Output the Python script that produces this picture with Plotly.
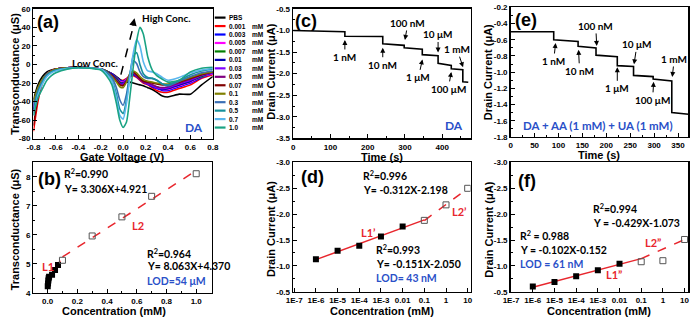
import numpy as np
import plotly.graph_objects as go

W, H = 696, 322

# ---------------- Panel (a): transconductance vs gate voltage ----------------
gate_v = [-0.8, -0.76, -0.72, -0.68, -0.64, -0.6, -0.5, -0.4, -0.3, -0.2, -0.15, -0.1, -0.06, -0.03, 0.0,
          0.03, 0.06, 0.09, 0.12, 0.15, 0.18, 0.22, 0.26, 0.3, 0.35, 0.4, 0.5, 0.6, 0.7, 0.8]
gm_names = ['PBS', '0.001', '0.003', '0.005', '0.007', '0.01', '0.03', '0.05', '0.07', '0.1', '0.3', '0.5', '0.7', '1.0']
gm_pbs = [-38, -22, -13, -8, -6, -5, -3.5, -3, -3.5, -5, -7, -10, -13, -16, -18, -19, -19, -20, -21, -22, -23, -25, -27, -30, -34, -35, -32, -32, -22, -13]
gm_0001 = [-72, -40, -20, -11, -7, -5, -3.5, -3, -3.5, -5, -7, -10, -14, -17, -17, -15, -13, -12, -14, -17, -20, -22, -25, -28, -30, -30, -26, -22, -15, -11]
gm_0003 = [-50, -30, -18, -10, -7, -5, -3.5, -3, -3.5, -5, -7, -10, -14, -17, -18, -16, -13, -11, -13, -16, -19, -21, -24, -26, -28, -28, -24, -20, -14, -10]
gm_0005 = [-46, -28, -17, -10, -7, -5, -3.5, -3, -3.5, -5, -7, -11, -15, -18, -19, -16, -12, -10, -12, -15, -18, -20, -23, -25, -27, -27, -23, -19, -13, -10]
gm_0007 = [-42, -26, -16, -10, -7, -5, -3.5, -3, -3.5, -5, -7, -11, -15, -19, -20, -17, -12, -10, -12, -15, -18, -20, -22, -24, -26, -26, -22, -18, -13, -9]
gm_001 = [-48, -28, -17, -10, -7, -5, -3.5, -3, -3.5, -5, -8, -11, -16, -20, -20, -17, -12, -10, -12, -16, -19, -21, -23, -25, -27, -26, -22, -18, -12, -9]
gm_003 = [-44, -27, -17, -10, -7, -5, -3.5, -3, -3.5, -5, -8, -12, -17, -21, -21, -17, -11, -9, -12, -16, -19, -21, -23, -25, -26, -25, -21, -17, -12, -9]
gm_005 = [-52, -30, -18, -11, -7, -5, -3.5, -3, -3.5, -5, -8, -12, -17, -21, -22, -18, -11, -9, -12, -16, -19, -20, -22, -24, -25, -24, -20, -16, -11, -8]
gm_007 = [-66, -36, -19, -11, -7, -5, -3.5, -3, -3.5, -5, -8, -12, -18, -22, -23, -18, -11, -8, -11, -15, -18, -19, -20, -21, -22, -22, -19, -15, -11, -8]
gm_01 = [-40, -25, -16, -10, -7, -5, -3.5, -3, -3.5, -5, -8, -13, -19, -24, -25, -19, -10, -7, -9, -13, -16, -18, -19, -20, -21, -21, -18, -14, -10, -8]
gm_03 = [-45, -28, -18, -11, -8, -6, -4, -3, -3.5, -5, -8, -14, -25, -38, -44, -32, -10, 4, 1, -8, -13, -15, -15, -17, -21, -23, -18, -13, -9, -7]
gm_05 = [-50, -30, -19, -12, -8, -6, -4, -3.5, -4, -5, -9, -17, -32, -48, -53, -38, -12, 9, 13, 0, -10, -14, -15, -17, -21, -22, -17, -11, -7, -5]
gm_07 = [-55, -33, -21, -13, -9, -7, -4.5, -3.5, -4, -5, -10, -18, -36, -55, -59, -42, -14, 12, 27, 20, 3, -7, -8, -10, -14, -17, -14, -9, -6, -4]
gm_10 = [-55, -36, -26, -17, -12, -9, -5, -3.5, -4, -6, -12, -22, -42, -60, -68, -62, -35, -3, 25, 40, 33, 8, -6, -12, -16, -19, -17, -8, -4, -3]
gm_series = [gm_pbs, gm_0001, gm_0003, gm_0005, gm_0007, gm_001, gm_003, gm_005, gm_007, gm_01, gm_03, gm_05, gm_07, gm_10]
gm_colors = ['#000000', '#ff0000', '#0000ff', '#ff00ff', '#008000', '#0000b0', '#8000ff', '#800080',
             '#800000', '#808000', '#3a6fb5', '#15909c', '#5ab6ee', '#1aa383']

# ---------------- Panel (b): calibration ----------------
b_conc_l1 = [0.001, 0.003, 0.005, 0.007, 0.01, 0.03, 0.05, 0.07]
b_gm_l1 = [4.22, 4.32, 4.42, 4.50, 4.55, 4.62, 4.78, 4.96]
b_conc_l2 = [0.1, 0.3, 0.5, 0.7, 1.0]
b_gm_l2 = [5.12, 5.96, 6.62, 7.33, 8.11]

# ---------------- Panel (c): I-t response DA ----------------
c_time = [0, 138.8, 138.8, 240.5, 240.5, 298, 298, 346.6, 346.6, 389, 389, 424.4, 424.4, 455.4, 455.4, 470]
c_curr = [-1.0, -1.03, -1.135, -1.14, -1.31, -1.345, -1.40, -1.435, -1.56, -1.585, -1.76, -1.81, -1.885, -1.91, -2.19, -2.20]

# ---------------- Panel (d): calibration (log) ----------------
d_conc_l1 = [1e-6, 1e-5, 1e-4, 1e-3, 1e-2]
d_cur_l1 = [-1.13, -1.29, -1.39, -1.57, -1.76]
d_conc_l2 = [0.1, 1, 10]
d_cur_l2 = [-1.88, -2.18, -2.50]

# ---------------- Panel (e): I-t response DA + AA + UA ----------------
e_time = [0, 90, 90, 141, 141, 178.5, 178.5, 223, 223, 257, 257, 298, 298, 337, 337, 372]
e_curr = [-0.5, -0.5, -0.6, -0.62, -0.68, -0.70, -0.79, -0.81, -0.92, -0.93, -1.04, -1.055, -1.085, -1.11, -1.50, -1.52]

# ---------------- Panel (f): calibration (log) ----------------
f_conc_l1 = [1e-6, 1e-5, 1e-4, 1e-3, 1e-2]
f_cur_l1 = [-0.60, -0.69, -0.80, -0.915, -1.04]
f_conc_l2 = [0.1, 1, 10]
f_cur_l2 = [-1.08, -1.10, -1.51]

log_ticks = [1e-7, 1e-6, 1e-5, 1e-4, 1e-3, 1e-2, 1e-1, 1, 10]
log_ticktext = ['1E-7', '1E-6', '1E-5', '1E-4', '1E-3', '0.01', '0.1', '1', '10']

RED = '#e8262d'
BLUE = '#2a50c8'
AXF = 'Liberation Sans'
TXF = 'Lato'


def px(x):
    return x / W


def py(y):
    return 1 - y / H


def fmt(v, d):
    return f'{v:.{d}f}'


def axis(dom, rng, tickvals=None, ticktext=None, minor_dtick=None, minor_tick0=0, typ='linear'):
    a = dict(domain=dom, range=rng, type=typ, showline=True, linecolor='black', linewidth=1.5, mirror=True,
             ticks='inside', ticklen=4, tickwidth=1, tickcolor='black', showgrid=False, zeroline=False,
             tickfont=dict(family=AXF, size=8, color='black', weight='bold'), fixedrange=True)
    if tickvals is not None:
        a.update(tickmode='array', tickvals=tickvals, ticktext=ticktext)
    if minor_dtick is not None:
        a['minor'] = dict(tickmode='linear', tick0=minor_tick0, dtick=minor_dtick, ticks='inside', ticklen=2,
                          tickcolor='black', tickwidth=1, showgrid=False)
    return a


def dx(a, b):
    return [a / W, b / W]


def dy(top, bottom):
    return [1 - bottom / H, 1 - top / H]


fig = go.Figure()

# (a) curves
for name, ys, col in zip(gm_names, gm_series, gm_colors):
    fig.add_trace(go.Scatter(x=gate_v, y=ys, mode='lines', line=dict(color=col, width=1.6, shape='spline', smoothing=0.6),
                             name=name, showlegend=False, xaxis='x', yaxis='y'))

# (b)
b_p1 = np.polyfit(b_conc_l1, b_gm_l1, 1)
b_p2 = np.polyfit(b_conc_l2, b_gm_l2, 1)
xb1 = np.array([0.0, b_conc_l2[0] * 0.85])
xb2 = np.array([b_conc_l2[0], b_conc_l2[-1]])
fig.add_trace(go.Scatter(x=xb1, y=np.polyval(b_p1, xb1), mode='lines', line=dict(color=RED, width=1.5),
                         showlegend=False, xaxis='x2', yaxis='y2'))
fig.add_trace(go.Scatter(x=xb2, y=np.polyval(b_p2, xb2), mode='lines', line=dict(color=RED, width=1.5, dash='dash'),
                         showlegend=False, xaxis='x2', yaxis='y2'))
fig.add_trace(go.Scatter(x=b_conc_l1, y=b_gm_l1, mode='markers', marker=dict(symbol='square', size=6, color='black'),
                         showlegend=False, xaxis='x2', yaxis='y2'))
fig.add_trace(go.Scatter(x=b_conc_l2, y=b_gm_l2, mode='markers',
                         marker=dict(symbol='square-open', size=6, color='#555555', line=dict(width=1)),
                         showlegend=False, xaxis='x2', yaxis='y2'))

# (c)
fig.add_trace(go.Scatter(x=c_time, y=c_curr, mode='lines', line=dict(color='black', width=1.6),
                         showlegend=False, xaxis='x3', yaxis='y3'))


def log_panel(xa, ya, c1, v1, c2, v2, dash_from_fit=True):
    p1 = np.polyfit(np.log10(c1), v1, 1)
    xl1 = np.array([c1[0], c2[0]])
    fig.add_trace(go.Scatter(x=xl1, y=np.polyval(p1, np.log10(xl1)), mode='lines', line=dict(color=RED, width=1.5),
                             showlegend=False, xaxis=xa, yaxis=ya))
    xl2 = np.array([c2[0], c2[-1]])
    if dash_from_fit:
        p2 = np.polyfit(np.log10(c2), v2, 1)
        yl2 = np.polyval(p2, np.log10(xl2))
    else:
        yl2 = [np.polyval(p1, np.log10(c2[0])), v2[-1]]
    fig.add_trace(go.Scatter(x=xl2, y=yl2, mode='lines', line=dict(color=RED, width=1.5, dash='dash'),
                             showlegend=False, xaxis=xa, yaxis=ya))
    fig.add_trace(go.Scatter(x=c1, y=v1, mode='markers', marker=dict(symbol='square', size=6, color='black'),
                             showlegend=False, xaxis=xa, yaxis=ya))
    fig.add_trace(go.Scatter(x=c2, y=v2, mode='markers',
                             marker=dict(symbol='square-open', size=6, color='#555555', line=dict(width=1)),
                             showlegend=False, xaxis=xa, yaxis=ya))


log_panel('x4', 'y4', d_conc_l1, d_cur_l1, d_conc_l2, d_cur_l2, True)

# (e)
fig.add_trace(go.Scatter(x=e_time, y=e_curr, mode='lines', line=dict(color='black', width=1.6),
                         showlegend=False, xaxis='x5', yaxis='y5'))

log_panel('x6', 'y6', f_conc_l1, f_cur_l1, f_conc_l2, f_cur_l2, False)

# ---------------- axes ----------------
ta = [-0.8, -0.6, -0.4, -0.2, 0.0, 0.2, 0.4, 0.6, 0.8]
tya = [-80, -60, -40, -20, 0, 20, 40, 60]
tb = [0.0, 0.2, 0.4, 0.6, 0.8, 1.0]
tyb = [4, 5, 6, 7, 8]
tc = [0, 100, 200, 300, 400]
tyc = [-3.5, -3.0, -2.5, -2.0, -1.5, -1.0, -0.5]
tyd = [-3.0, -2.5, -2.0, -1.5, -1.0, -0.5]
te = [0, 50, 100, 150, 200, 250, 300, 350]
tye = [-1.8, -1.6, -1.4, -1.2, -1.0, -0.8, -0.6, -0.4, -0.2]

fig.update_layout(
    xaxis=axis(dx(26, 209), [-0.8, 0.8], ta, [fmt(v, 1) for v in ta], 0.1, -0.8),
    yaxis=axis(dy(5, 138.5), [-80, 60], tya, [str(v) for v in tya], 10, -80),
    xaxis2=axis(dx(26, 208), [-0.095, 1.105], tb, [fmt(v, 1) for v in tb], 0.1, 0),
    yaxis2=axis(dy(163, 297), [4, 8.5], tyb, [str(v) for v in tyb], 0.5, 4),
    xaxis3=axis(dx(291, 472), [0, 476], tc, [str(v) for v in tc], 50, 0),
    yaxis3=axis(dy(5, 138.3), [-3.5, -0.5], tyc, [fmt(v, 1) for v in tyc], 0.25, -3.5),
    xaxis4=axis(dx(291, 472), [-7.05, 1.13], log_ticks, log_ticktext, None, 0, 'log'),
    yaxis4=axis(dy(163, 296), [-0.5, -3.0], tyd, [fmt(v, 1) for v in tyd], 0.25, -3.0),
    xaxis5=axis(dx(513, 694), [0, 371], te, [str(v) for v in te], 25, 0),
    yaxis5=axis(dy(3.5, 136.7), [-1.8, -0.2], tye, [fmt(v, 1) for v in tye], 0.1, -1.8),
    xaxis6=axis(dx(513, 694), [-7.02, 1.16], log_ticks, log_ticktext, None, 0, 'log'),
    yaxis6=axis(dy(163, 296), [-0.5, -3.0], tyd, [fmt(v, 1) for v in tyd], 0.25, -3.0),
)
for k in ['xaxis2', 'xaxis3', 'xaxis4', 'xaxis5', 'xaxis6']:
    fig.layout[k].anchor = 'y' + k[-1]
for k in ['yaxis2', 'yaxis3', 'yaxis4', 'yaxis5', 'yaxis6']:
    fig.layout[k].anchor = 'x' + k[-1]

annotations = []
shapes = []


def text(t, x, y, size=10.5, color='black', family=TXF, anchor='left', angle=0):
    annotations.append(dict(text=t, x=px(x), y=py(y), xref='paper', yref='paper', showarrow=False,
                            xanchor=anchor, yanchor='middle', textangle=angle,
                            font=dict(family=family, size=size, color=color, weight='bold')))


# axis titles
for t, x, y, ang in [('Transconductance (μS)', 7, 72, -90), ('Gate Voltage (V)', 116, 157.5, 0),
                     ('Transconductance (μS)', 7, 232, -90), ('Concentration (mM)', 108, 316, 0),
                     ('Drain Current (μA)', 268, 70, -90), ('Time (s)', 381.5, 157, 0),
                     ('Drain Current (μA)', 268, 232, -90), ('Concentration (mM)', 381.5, 315.5, 0),
                     ('Drain Current (μA)', 490, 70, -90), ('Time (s)', 603, 155.5, 0),
                     ('Drain Current (μA)', 490, 232, -90), ('Concentration (mM)', 603, 315.5, 0)]:
    text(t, x, y, size=11, family=AXF, anchor='center', angle=ang)

# panel letters
for t, x, y in [('(a)', 28, 19), ('(b)', 29, 180), ('(c)', 291, 18), ('(d)', 297, 178), ('(e)', 515, 16), ('(f)', 518, 182)]:
    text(t, x, y, size=18, family=AXF)

# (a) texts
text('High Conc.', 135, 14, 10)
text('Low Conc.', 63, 61, 10)
text('DA', 190, 127, 12, BLUE, anchor='center')
shapes.append(dict(type='line', xref='x', yref='y', x0=-0.02, y0=-11, x1=0.097, y1=44,
                   line=dict(color='black', width=1.5, dash='dash')))
annotations.append(dict(x=0.102, y=50, xref='x', yref='y', text='', showarrow=True, ax=-2, ay=9,
                        arrowhead=2, arrowsize=1, arrowwidth=1.5, arrowcolor='black'))

# (a) legend
for i, (name, col) in enumerate(zip(gm_names, gm_colors)):
    yy = 14 + i * 8.7
    shapes.append(dict(type='line', xref='paper', yref='paper', x0=px(211), x1=px(222), y0=py(yy), y1=py(yy),
                       line=dict(color=col, width=2.2)))
    text(name, 224, yy, 6.5, family=AXF)
    if name != 'PBS':
        text('mM', 246.5, yy, 6.5, family=AXF)

# (b) texts
text('R<sup>2</sup>=0.990', 55, 174)
text('Y= 3.306X+4.921', 55, 190.5)
text('L2', 125, 228, 11, RED)
text('L1', 33, 270, 11, RED)
text('R<sup>2</sup>=0.964', 140, 256.5)
text('Y= 8.063X+4.370', 140, 270)
text('LOD=54 μM', 140, 285, 10.5, BLUE)

# (c) arrows
c_marks = [('1 nM', 138.8, -1.22, 0, 17), ('10 nM', 240.5, -1.40, 0, 17), ('100 nM', 300, -1.22, 3, -17),
           ('1 μM', 347, -1.67, -4, 18), ('10 μM', 389, -1.51, 0, -18), ('100 μM', 424.4, -1.96, -3, 17),
           ('1 mM', 456, -1.85, -6, -18)]
for t, x, y, ax, ay in c_marks:
    annotations.append(dict(x=x, y=y, xref='x3', yref='y3', text=t, showarrow=True, ax=ax, ay=ay,
                            arrowhead=2, arrowsize=1, arrowwidth=1, arrowcolor='black',
                            font=dict(family=TXF, size=10, color='black', weight='bold')))
text('DA', 455, 125, 12, BLUE, anchor='center')

# (d) texts
text('R<sup>2</sup>=0.996', 360, 176)
text('Y= -0.312X-2.198', 360, 191)
text('L2’', 451, 213, 11, RED)
text('L1’', 358, 235, 11, RED)
text('R<sup>2</sup>=0.993', 374, 253)
text('Y= -0.151X-2.050', 374, 267)
text('LOD= 43 nM', 374, 282, 10.5, BLUE)

# (e) arrows
e_marks = [('1 nM', 94, -0.64, -2, 18), ('10 nM', 142, -0.724, 1, 21), ('100 nM', 180, -0.676, -1, -20),
           ('1 μM', 223, -0.94, 0, 21), ('10 μM', 258, -0.904, 3, -20), ('100 μM', 299, -1.12, -1, 18),
           ('1 mM', 338, -1.06, 2, -18)]
for t, x, y, ax, ay in e_marks:
    annotations.append(dict(x=x, y=y, xref='x5', yref='y5', text=t, showarrow=True, ax=ax, ay=ay,
                            arrowhead=2, arrowsize=1, arrowwidth=1, arrowcolor='black',
                            font=dict(family=TXF, size=10, color='black', weight='bold')))
text('DA + AA (1 mM) + UA (1 mM)', 601.7, 125, 11.5, BLUE, anchor='center')

# (f) texts
text('R<sup>2</sup>=0.994', 595, 210)
text('Y = -0.429X-1.073', 595, 225)
text('R<sup>2</sup> = 0.988', 520, 238)
text('Y = -0.102X-0.152', 520, 253)
text('LOD = 61 nM', 520, 267, 10.5, BLUE)
text('L1”', 608, 278, 11, RED)
text('L2”', 648, 245, 11, RED)

fig.update_layout(width=W, height=H, margin=dict(l=0, r=0, t=0, b=0), paper_bgcolor='white', plot_bgcolor='white',
                  annotations=annotations, shapes=shapes, showlegend=False)

fig.write_html('out.html', config={'displayModeBar': False, 'staticPlot': True},
               post_script="document.body.style.margin='0px';document.body.style.padding='0px';")
